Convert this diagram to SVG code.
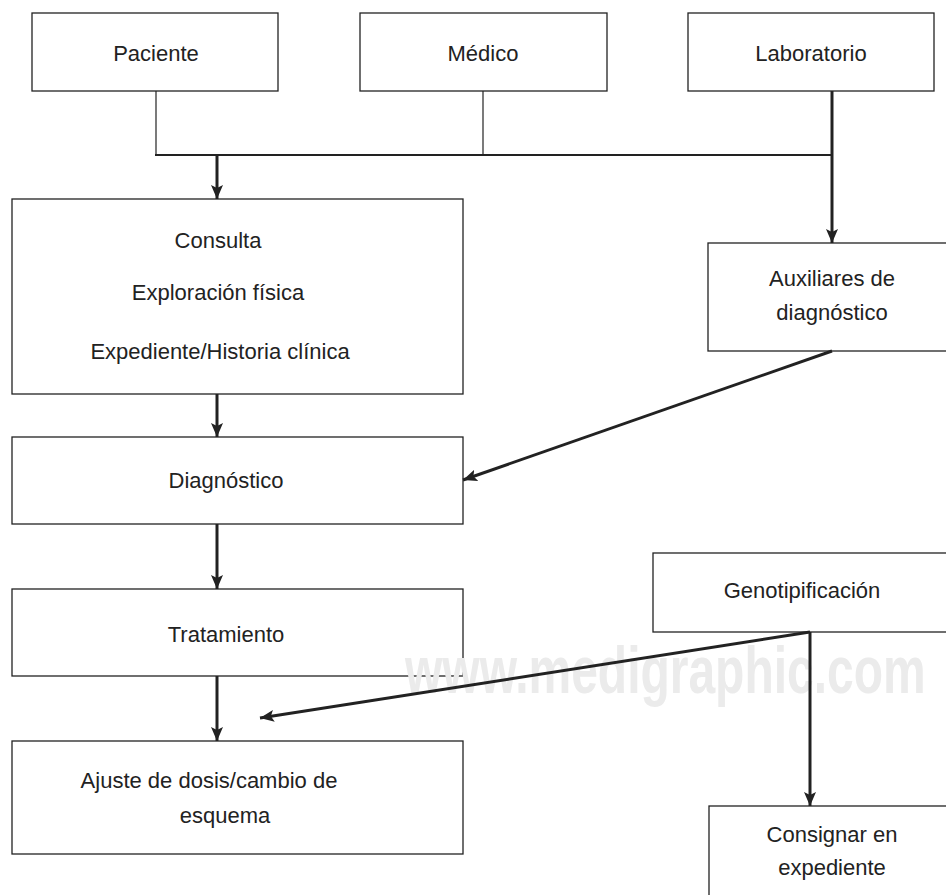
<svg xmlns="http://www.w3.org/2000/svg" width="946" height="895" viewBox="0 0 946 895">
  <defs>
    <style>
      .box { fill: #ffffff; stroke: #222222; stroke-width: 1.3; }
      .lbl { font-family: "Liberation Sans", sans-serif; font-size: 22px; fill: #222222; text-anchor: middle; }
      .thin { stroke: #222222; stroke-width: 1.2; fill: none; }
      .thick { stroke: #222222; stroke-width: 2; fill: none; }
      .arrow { stroke: #222222; stroke-width: 3; fill: none; marker-end: url(#ah); }
      .wm { font-family: "Liberation Sans", sans-serif; font-weight: bold; font-size: 66px; fill: #ebebeb; }
    </style>
    <marker id="ah" markerUnits="userSpaceOnUse" markerWidth="16" markerHeight="14" refX="14" refY="6" orient="auto" viewBox="0 0 16 14">
      <path d="M0,0 L14,6 L0,12 L3,6 z" fill="#222222"/>
    </marker>
  </defs>
  <rect width="946" height="895" fill="#ffffff"/>

  <g id="paciente">
    <rect class="box" x="32" y="13" width="246" height="78"/>
    <text class="lbl" x="156" y="61">Paciente</text>
  </g>
  <g id="medico">
    <rect class="box" x="360" y="13" width="247" height="78"/>
    <text class="lbl" x="483" y="61">Médico</text>
  </g>
  <g id="laboratorio">
    <rect class="box" x="688" y="13" width="246" height="78"/>
    <text class="lbl" x="811" y="61">Laboratorio</text>
  </g>
  <g id="consulta">
    <rect class="box" x="12" y="199" width="451" height="195"/>
    <text class="lbl" x="218" y="248">Consulta</text>
    <text class="lbl" x="218" y="300">Exploración física</text>
    <text class="lbl" x="220" y="359">Expediente/Historia clínica</text>
  </g>
  <g id="auxiliares">
    <rect class="box" x="708" y="243" width="250" height="108"/>
    <text class="lbl" x="832" y="286">Auxiliares de</text>
    <text class="lbl" x="832" y="320">diagnóstico</text>
  </g>
  <g id="diagnostico">
    <rect class="box" x="12" y="437" width="451" height="87"/>
    <text class="lbl" x="226" y="488">Diagnóstico</text>
  </g>
  <g id="tratamiento">
    <rect class="box" x="12" y="589" width="451" height="87"/>
    <text class="lbl" x="226" y="642">Tratamiento</text>
  </g>
  <g id="ajuste">
    <rect class="box" x="12" y="741" width="451" height="113"/>
    <text class="lbl" x="209" y="788">Ajuste de dosis/cambio de</text>
    <text class="lbl" x="225" y="823">esquema</text>
  </g>
  <g id="genotipificacion">
    <rect class="box" x="653" y="553" width="300" height="79"/>
    <text class="lbl" x="802" y="598">Genotipificación</text>
  </g>
  <g id="consignar">
    <rect class="box" x="709" y="806" width="250" height="100"/>
    <text class="lbl" x="832" y="842">Consignar en</text>
    <text class="lbl" x="832" y="875">expediente</text>
  </g>

  <text class="wm" transform="translate(405,693) scale(0.727,1)" x="0" y="0">www.medigraphic.com</text>

  <g id="connectors">
    <path class="thin" d="M156,91 V155"/>
    <path class="thin" d="M483,91 V155"/>
    <path class="thick" d="M155,155 H832"/>
    <path class="arrow" d="M217,155 V199"/>
    <path class="arrow" d="M832,91 V243"/>
    <path class="arrow" d="M217,394 V437"/>
    <path class="arrow" d="M832,351 L463,480"/>
    <path class="arrow" d="M217,524 V589"/>
    <path class="arrow" d="M217,676 V741"/>
    <path class="arrow" d="M810,632 L260,718"/>
    <path class="arrow" d="M810,632 V806"/>
  </g>
</svg>
